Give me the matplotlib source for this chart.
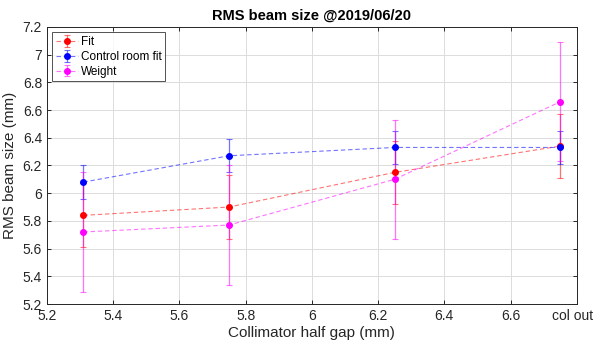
import numpy as np
import matplotlib.pyplot as plt
import matplotlib.transforms as mtransforms
from matplotlib.colors import to_rgba

plt.rcParams['font.family'] = ['Liberation Sans', 'DejaVu Sans']

# data
gap = [5.31, 5.75, 6.25, 6.75]
fit = [5.84, 5.90, 6.15, 6.34]
fit_err = [0.23, 0.23, 0.23, 0.23]
ctrl = [6.08, 6.27, 6.33, 6.33]
ctrl_err = [0.12, 0.12, 0.12, 0.12]
weight = [5.72, 5.77, 6.10, 6.66]
weight_err = [0.43, 0.43, 0.43, 0.43]

xticks = [5.2, 5.4, 5.6, 5.8, 6.0, 6.2, 6.4, 6.6, 6.8]
xticklabels = ["5.2", "5.4", "5.6", "5.8", "6", "6.2", "6.4", "6.6", "col out"]
yticks = [5.2, 5.4, 5.6, 5.8, 6.0, 6.2, 6.4, 6.6, 6.8, 7.0, 7.2]
yticklabels = ["5.2", "5.4", "5.6", "5.8", "6", "6.2", "6.4", "6.6", "6.8", "7", "7.2"]


def main():
    fig = plt.figure(figsize=(5.94, 3.41), dpi=100)
    ax = fig.add_axes([0.079, 0.1085, 0.892, 0.8125])

    series = [(fit, fit_err, "red", "Fit"),
              (ctrl, ctrl_err, "blue", "Control room fit"),
              (weight, weight_err, "magenta", "Weight")]
    for y, e, c, lab in series:
        ax.errorbar(gap, y, yerr=e, fmt="--o", color=to_rgba(c, 0.55),
                    ecolor=to_rgba(c, 0.55), mfc=c, mec=c, ms=4,
                    lw=0.8, elinewidth=0.9, capsize=2.2, capthick=0.8,
                    label=lab, dashes=(4, 2.5))

    ax.set_xlim(5.2, 6.8)
    ax.set_ylim(5.2, 7.2)
    ax.set_xticks(xticks)
    ax.set_xticklabels(xticklabels)
    ax.set_yticks(yticks)
    ax.set_yticklabels(yticklabels)
    ax.grid(True, color="#dcdcdc", lw=0.7)
    ax.set_axisbelow(True)
    ax.tick_params(direction="in", top=True, right=True, length=3,
                   labelsize=10, colors="#262626", width=0.7)
    for s in ax.spines.values():
        s.set_color("#262626")
        s.set_linewidth(0.7)

    # keep "col out" inside the canvas
    last = ax.get_xticklabels()[-1]
    last.set_transform(last.get_transform() +
                       mtransforms.ScaledTranslation(-3 / 72, 0, fig.dpi_scale_trans))

    ax.set_title("RMS beam size @2019/06/20", fontsize=10.5, fontweight="bold", pad=5)
    ax.set_xlabel("Collimator half gap (mm)", fontsize=11, color="#262626", labelpad=2)
    ax.set_ylabel("RMS beam size (mm)", fontsize=11, color="#262626", labelpad=4)

    leg = ax.legend(loc="upper left", fontsize=8.5, frameon=True, fancybox=False,
                    edgecolor="#262626", handlelength=1.9, handletextpad=0.25,
                    borderpad=0.3, labelspacing=0.25, borderaxespad=0.45)
    leg.get_frame().set_linewidth(0.7)

    fig.savefig("out.png", dpi=100)


if __name__ == "__main__":
    main()
